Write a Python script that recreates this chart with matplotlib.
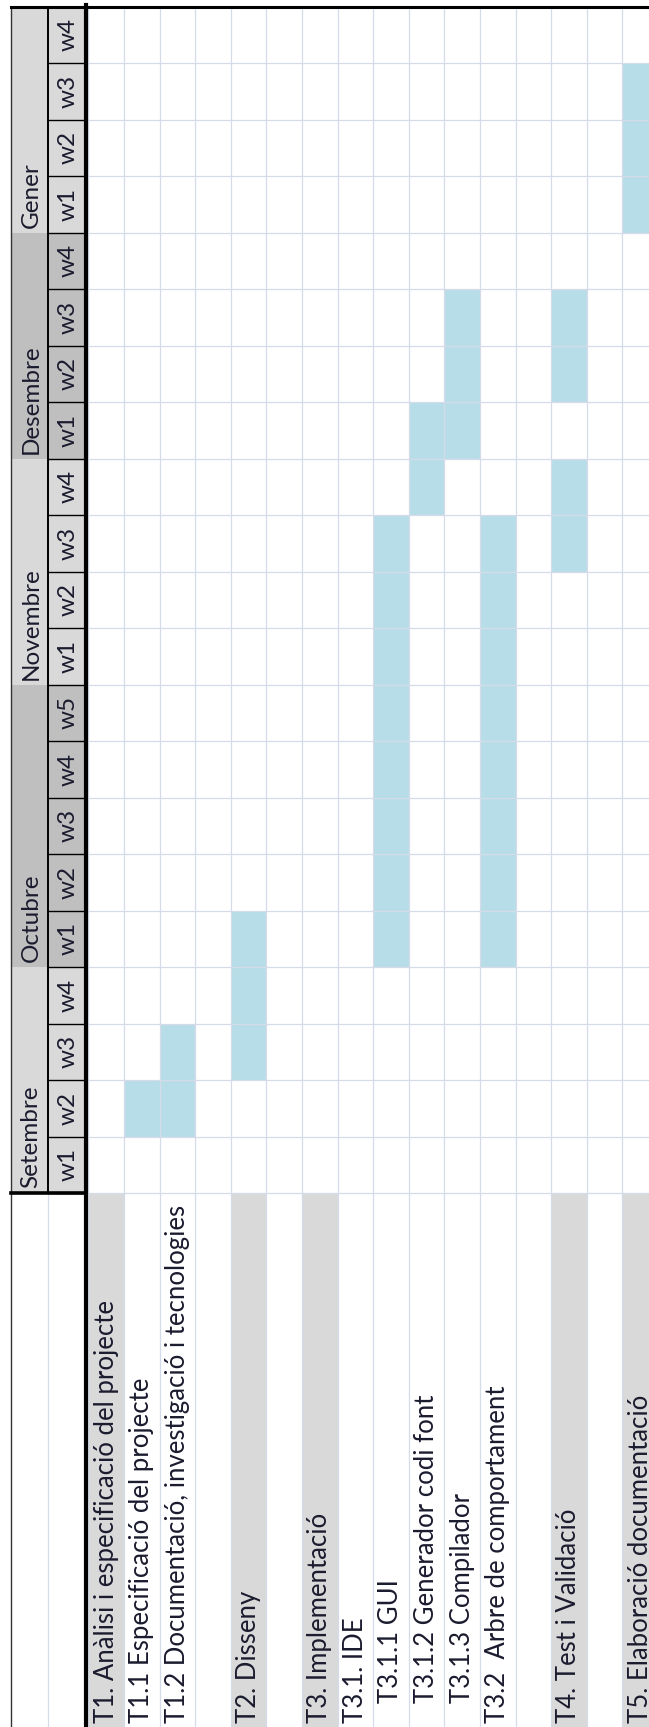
import matplotlib.pyplot as plt
from matplotlib.patches import Rectangle

# tasks, one column each (left to right in the rotated sheet)
tasks = [
    'T1. Anàlisi i especificació del projecte',
    'T1.1 Especificació del projecte',
    'T1.2 Documentació, investigació i tecnologies',
    '',
    'T2. Disseny',
    '',
    'T3. Implementació',
    'T3.1. IDE',
    '   T3.1.1 GUI',
    '   T3.1.2 Generador codi font',
    '   T3.1.3 Compilador',
    'T3.2  Arbre de comportament',
    '',
    'T4. Test i Validació',
    '',
    'T5. Elaboració documentació',
]
gray_tasks = [0, 4, 6, 13, 15]

months = ['Setembre', 'Octubre', 'Novembre', 'Desembre', 'Gener']
month_weeks = [4, 5, 4, 4, 4]
month_colors = ['#d9d9d9', '#bfbfbf', '#d9d9d9', '#bfbfbf', '#d9d9d9']

# bars: (task column, first week index from Setembre w1, number of weeks)
bars_task = [1, 2, 4, 8, 9, 10, 11, 13, 13, 15]
bars_start = [1, 1, 2, 4, 12, 13, 4, 11, 14, 17]
bars_len = [1, 2, 3, 8, 2, 3, 8, 2, 2, 3]

BAR_COLOR = '#b7dee8'
GRID_COLOR = '#d5dbe9'
TEXT_COLOR = '#1b1b2f'
FONT = 'Lato'

# layout in pixels of the sheet
W, H = 649, 1727
X0, CW = 88.4, 35.6        # first task column, column width
RH = 56.5                  # week row height
Y_BOTTOM = 1193.0          # bottom of the week grid
n_weeks = sum(month_weeks)
n_tasks = len(tasks)

fig = plt.figure(figsize=(W / 100, H / 100), dpi=100)
ax = fig.add_axes([0, 0, 1, 1])
ax.set_xlim(-X0 / CW, (W - X0) / CW)
ax.set_ylim(-(H - Y_BOTTOM) / RH, Y_BOTTOM / RH)
ax.axis('off')

ybot = -(H - Y_BOTTOM) / RH
mx0, mx1 = (11 - X0) / CW, (48.3 - X0) / CW    # month header column
wx1 = (86.5 - X0) / CW                           # end of week header column

# gray label cells
for i in gray_tasks:
    ax.add_patch(Rectangle((i, ybot - 1), 1, -ybot + 1, color='#d9d9d9', lw=0, zorder=1))

# bars
ax.bar([t + 0.5 for t in bars_task], bars_len, bottom=bars_start, width=1.0,
       color=BAR_COLOR, linewidth=0, zorder=2)

# light grid
for i in range(n_tasks + 1):
    ax.plot([i, i], [ybot - 1, n_weeks], color=GRID_COLOR, lw=0.9, zorder=3)
for j in range(n_weeks + 1):
    ax.plot([0, n_tasks + 1], [j, j], color=GRID_COLOR, lw=0.9, zorder=3)
ax.plot([mx1, mx1], [ybot - 1, 0], color=GRID_COLOR, lw=0.9, zorder=3)

# header: months and weeks
w = 0
for m, nw, c in zip(months, month_weeks, month_colors):
    ax.add_patch(Rectangle((mx0, w), mx1 - mx0, nw, color=c, lw=0, zorder=1))
    ax.add_patch(Rectangle((mx1, w), wx1 - mx1, nw, color=c, lw=0, zorder=1))
    ax.text((mx0 + mx1) / 2 + 0.04, w + 0.08, m, rotation=90, ha='center', va='bottom',
            fontsize=17.5, family=FONT, color=TEXT_COLOR, zorder=5)
    for k in range(nw):
        ax.text((mx1 + wx1) / 2 + 0.03, w + k + 0.5, 'w%d' % (k + 1), rotation=90,
                ha='center', va='center', fontsize=17.5, family=FONT, color=TEXT_COLOR, zorder=5)
        ax.plot([mx1, wx1], [w + k, w + k], color='black', lw=1.0, zorder=4)
    w += nw

# header borders
ax.plot([mx0, mx0], [ybot - 1, n_weeks], color='#333333', lw=1.0, zorder=4)
ax.plot([mx1, mx1], [0, n_weeks], color='black', lw=1.4, zorder=4)
ax.plot([wx1, wx1], [ybot - 1, n_weeks + 0.02], color='black', lw=3.0, zorder=4)
ax.plot([mx0, wx1], [0, 0], color='black', lw=2.6, zorder=4)
ax.plot([mx0, n_tasks + 1], [n_weeks, n_weeks], color='black', lw=2.2, zorder=4)

# task labels
for i, t in enumerate(tasks):
    if t:
        ax.text(i + 0.5, ybot + 4 / RH, t, rotation=90, ha='center', va='bottom',
                fontsize=18.5, family=FONT, color=TEXT_COLOR, zorder=5)

fig.savefig('out.png', dpi=100, facecolor='white')
